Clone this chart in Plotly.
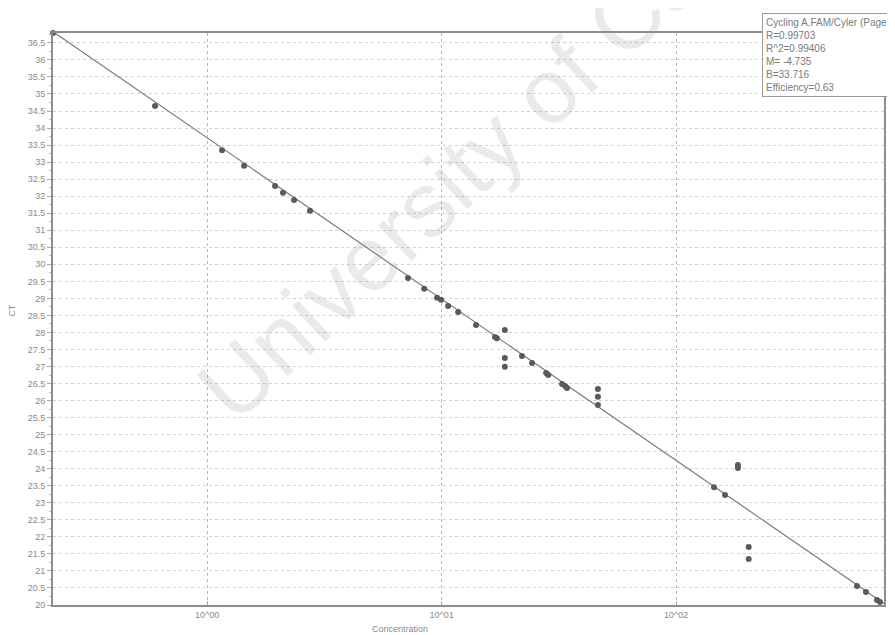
import plotly.graph_objects as go

# log10 concentration and CT values
log_conc = [-0.657, -0.222, 0.064, 0.158, 0.290, 0.324, 0.371, 0.439,
            0.857, 0.926, 0.981, 0.998, 1.028, 1.071, 1.147, 1.228, 1.236,
            1.343, 1.386, 1.446, 1.455, 1.514, 1.527, 1.535,
            2.162, 2.209, 2.772, 2.81, 2.857, 2.87]
ct = [36.79, 34.65, 33.35, 32.89, 32.30, 32.10, 31.89, 31.57,
      29.60, 29.28, 29.02, 28.96, 28.78, 28.60, 28.22, 27.87, 27.83,
      27.31, 27.10, 26.81, 26.75, 26.49, 26.43, 26.37,
      23.46, 23.23, 20.56, 20.38, 20.15, 20.09]

# replicate outliers off the line
out_log = [1.27, 1.27, 1.27, 1.667, 1.667, 1.667, 2.264, 2.264, 2.31, 2.31]
out_ct = [28.07, 27.25, 26.99, 26.34, 26.11, 25.87, 24.11, 24.02, 21.70, 21.35]

slope = -4.735
intercept = 33.716
x_range = [-0.657, 2.887]
y_range = [20, 36.79]

x_ticks = [0, 1, 2]
x_ticklabels = ["10^00", "10^01", "10^02"]

info_lines = ["Cycling A.FAM/Cyler (Page 1)", "R=0.99703", "R^2=0.99406",
              "M= -4.735", "B=33.716", "Efficiency=0.63"]

FONT = "Liberation Sans, Arial"

fig = go.Figure()

fig.add_trace(go.Scatter(
    x=x_range, y=[intercept + slope * v for v in x_range],
    mode="lines", line=dict(color="#7a7a7a", width=1.2),
    showlegend=False, hoverinfo="skip"))

fig.add_trace(go.Scatter(
    x=log_conc + out_log, y=ct + out_ct, mode="markers",
    marker=dict(color="#5a5a5a", size=6, line=dict(width=0)),
    showlegend=False, cliponaxis=False))

# watermark
fig.add_annotation(
    text="University of Cape Town", xref="paper", yref="paper",
    x=0.628, y=0.944, xanchor="center", yanchor="middle",
    showarrow=False, textangle=-43,
    font=dict(family=FONT, size=92, color="rgba(150,150,150,0.2)"))

# info box
fig.add_annotation(
    text="<br>".join(info_lines), xref="paper", yref="paper",
    x=0.853, y=1.0353, xanchor="left", yanchor="top", align="left",
    showarrow=False, bgcolor="white", bordercolor="#9a9a9a", borderwidth=1,
    borderpad=3,
    font=dict(family=FONT, size=10, color="#7a7a7a"))

# axis titles
fig.add_annotation(text="CT", xref="paper", yref="paper", x=-0.049, y=0.515,
                   xanchor="center", yanchor="middle", textangle=-90, showarrow=False,
                   font=dict(family=FONT, size=9, color="#8a8a8a"))
fig.add_annotation(text="Concentration", xref="paper", yref="paper", x=0.418, y=-0.029,
                   xanchor="center", yanchor="top", showarrow=False,
                   font=dict(family=FONT, size=9, color="#8a8a8a"))

# the page body adds an 8px offset, so the figure is 8px smaller
fig.update_layout(
    width=887, height=627,
    margin=dict(l=45, r=11, t=25, b=30, autoexpand=False),
    plot_bgcolor="white", paper_bgcolor="white",
    font=dict(family=FONT, size=9, color="#8a8a8a"),
)
fig.update_xaxes(
    range=x_range, tickvals=x_ticks, ticktext=x_ticklabels, automargin=False,
    showgrid=True, gridcolor="#b8b8b8", griddash="dot", gridwidth=1,
    showline=True, linecolor="#8c8c8c", linewidth=2, mirror=True,
    ticks="inside", ticklen=4, tickcolor="#aaaaaa", zeroline=False,
)
fig.update_yaxes(
    range=y_range, dtick=0.5, tick0=20, automargin=False,
    showgrid=True, gridcolor="#d2d2d2", griddash="dot", gridwidth=1,
    showline=True, linecolor="#8c8c8c", linewidth=2, mirror=True,
    ticks="outside", ticklen=4, tickcolor="#aaaaaa", zeroline=False,
    minor=dict(dtick=0.25, ticks="outside", ticklen=2, tickcolor="#bbbbbb", showgrid=False),
)

fig.write_html("out.html")
